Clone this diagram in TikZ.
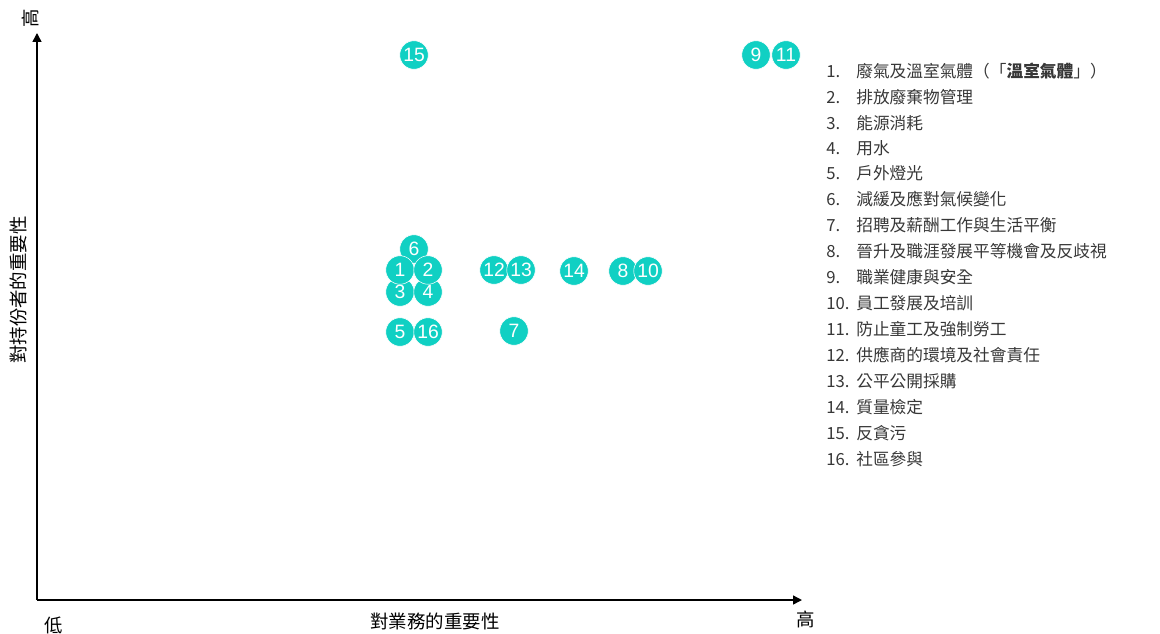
\documentclass[tikz,border=0pt]{standalone}
\usepackage{fontspec}
\setmainfont{Noto Sans CJK TC}
\newfontfamily\numfont{Liberation Sans}
\usetikzlibrary{arrows.meta}
\definecolor{teal1}{RGB}{16,208,195}
\definecolor{txtgray}{RGB}{55,55,55}
\tikzset{
  dot/.style={circle, fill=teal1, draw=white, line width=0.3pt, minimum size=0.57cm, inner sep=0pt, text=white, font=\numfont\fontsize{11}{11}\selectfont},
  axis/.style={line width=0.8pt, -{Triangle[length=5pt,width=5pt]}},
  lbl/.style={font=\fontsize{10.5}{12}\selectfont, text=black, inner sep=0pt},
  item/.style={font=\fontsize{9.5}{12}\selectfont, text=txtgray, anchor=west, inner sep=0pt}
}
\newcommand{\nb}[1]{\makebox[0.6cm][l]{#1}}
\begin{document}
\begin{tikzpicture}[x=0.02cm, y=-0.02cm]
\useasboundingbox (0,0) rectangle (1160,633);
% axes
\coordinate (O) at (37,600);
\coordinate (ytop) at (37,33);
\coordinate (xend) at (802,600);
\draw[axis] (O) -- (ytop);
\draw[axis] (O) -- (xend);
\node[lbl, rotate=90] (yhigh) at (30,18) {高};
\node[lbl, rotate=90] (ylab) at (18,290) {對持份者的重要性};
\node[lbl] (xlow) at (54,625) {低};
\node[lbl] (xlab) at (435,621) {對業務的重要性};
\node[lbl] (xhigh) at (806,619) {高};
% dots
\node[dot] (c15) at (414,55) {15};
\node[dot] (c9) at (756,55) {9};
\node[dot] (c11) at (786,55) {11};
\node[dot] (c6) at (414,249) {6};
\node[dot] (c3) at (400,292) {3};
\node[dot] (c4) at (428,292) {4};
\node[dot] (c1) at (400,270) {1};
\node[dot] (c2) at (428,270) {2};
\node[dot] (c12) at (494,270) {12};
\node[dot] (c13) at (521,270) {13};
\node[dot] (c14) at (574,271) {14};
\node[dot] (c8) at (623,271) {8};
\node[dot] (c10) at (648,271) {10};
\node[dot] (c5) at (400,332) {5};
\node[dot] (c16) at (428,332) {16};
\node[dot] (c7) at (514,331) {7};
% legend
\node[item] (i1) at (826,71) {\nb{1.}廢氣及溫室氣體（「\textbf{溫室氣體}」）};
\node[item] (i2) at (826,97) {\nb{2.}排放廢棄物管理};
\node[item] (i3) at (826,123) {\nb{3.}能源消耗};
\node[item] (i4) at (826,148) {\nb{4.}用水};
\node[item] (i5) at (826,173) {\nb{5.}戶外燈光};
\node[item] (i6) at (826,199) {\nb{6.}減緩及應對氣候變化};
\node[item] (i7) at (826,225) {\nb{7.}招聘及薪酬工作與生活平衡};
\node[item] (i8) at (826,251) {\nb{8.}晉升及職涯發展平等機會及反歧視};
\node[item] (i9) at (826,277) {\nb{9.}職業健康與安全};
\node[item] (i10) at (826,303) {\nb{10.}員工發展及培訓};
\node[item] (i11) at (826,329) {\nb{11.}防止童工及強制勞工};
\node[item] (i12) at (826,355) {\nb{12.}供應商的環境及社會責任};
\node[item] (i13) at (826,381) {\nb{13.}公平公開採購};
\node[item] (i14) at (826,407) {\nb{14.}質量檢定};
\node[item] (i15) at (826,433) {\nb{15.}反貪污};
\node[item] (i16) at (826,459) {\nb{16.}社區參與};
\end{tikzpicture}
\end{document}
